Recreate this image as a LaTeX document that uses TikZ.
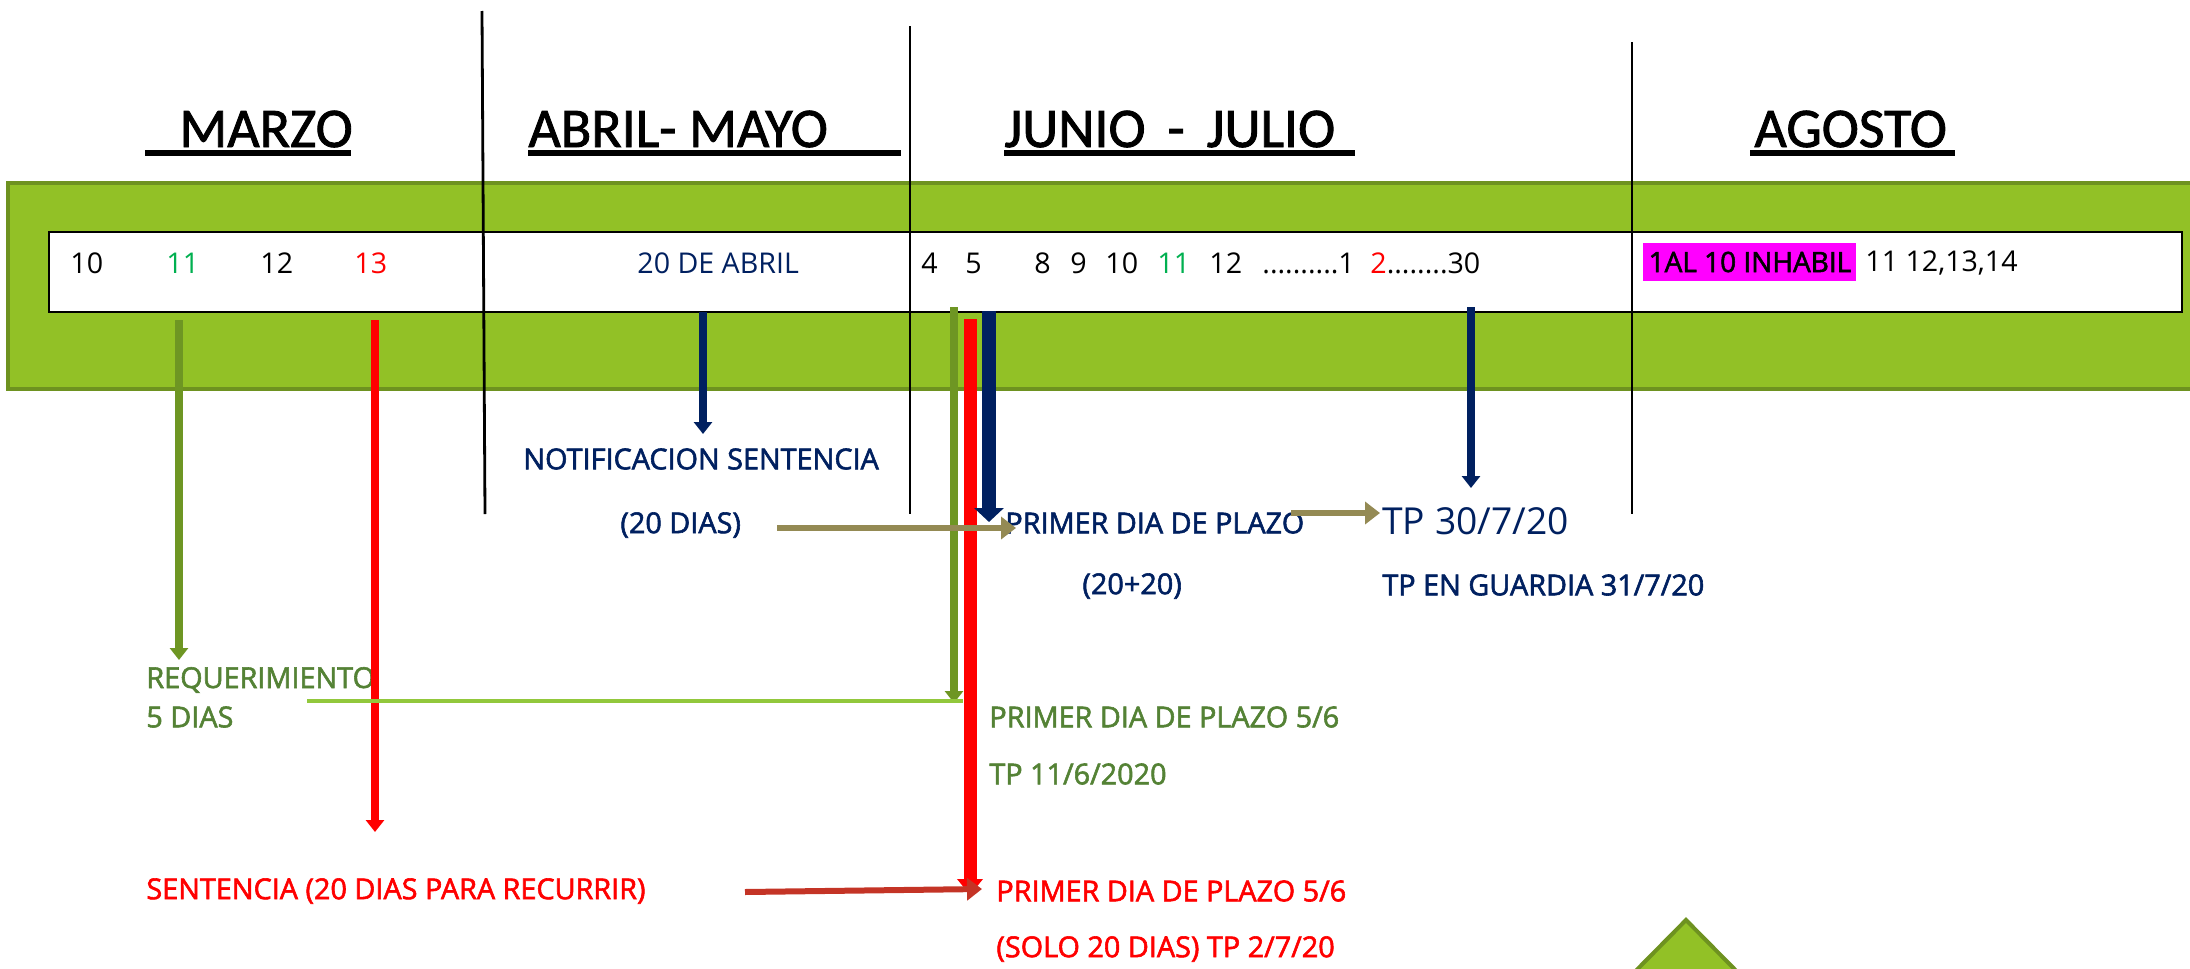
\documentclass[tikz,border=0pt]{standalone}
\usepackage{fontspec}
\setmainfont{Open Sans}
\newfontfamily\semib{Open Sans}[FakeBold=2]
\newfontfamily\titf{Carlito}[FakeBold=1.5]
\usetikzlibrary{arrows.meta}
\definecolor{navy}{RGB}{0,32,96}
\definecolor{txtgreen}{RGB}{84,130,53}
\definecolor{daygreen}{RGB}{0,176,80}
\definecolor{olivearr}{RGB}{110,150,35}
\definecolor{bandfill}{RGB}{146,193,38}
\definecolor{bandline}{RGB}{110,146,32}
\definecolor{lgreen}{RGB}{146,200,60}
\definecolor{khaki}{RGB}{148,138,84}
\definecolor{darkred}{RGB}{196,52,38}
\definecolor{magentabg}{RGB}{255,0,255}
\begin{document}
\begin{tikzpicture}[x=0.5pt,y=-0.5pt,
  day/.style={anchor=west, inner sep=0pt, font=\fontsize{14.3}{16}\selectfont},
  ann/.style={anchor=west, inner sep=0pt, font=\semib\fontsize{14.4}{16}\selectfont},
  ttl/.style={anchor=base west, inner sep=0pt, font=\titf\fontsize{28}{32}\selectfont},
  sepline/.style={line width=1.4pt, black},
  thinarrow/.style={line width=4pt, -{Triangle[width=9pt,length=6pt]}},
  harrow/.style={line width=3pt, khaki, -{Triangle[width=11pt,length=7.5pt]}},
  uline/.style={line width=3pt, black}
]
\useasboundingbox (0,0) rectangle (2190,969);

% band and day strip
\draw[fill=bandfill, draw=bandline, line width=2pt] (8,183) rectangle (2220,389);
\draw[fill=white, draw=black, line width=1.2pt] (49,232) rectangle (2182,312);

% separators
\draw[sepline] (482,11) -- (485,514);
\draw[sepline] (910,26) -- (910,514);
\draw[sepline] (1632,42) -- (1632,514);

% titles
\node[ttl] (tmar) at (179,147) {MARZO};
\node[ttl] (tabr) at (528,147) {ABRIL- MAYO};
\node[ttl] (tjun) at (1004,147) {JUNIO \,-\, JULIO};
\node[ttl] (tago) at (1754,147) {AGOSTO};
\draw[uline] (145,153) -- (351,153);
\draw[uline] (528,153) -- (901,153);
\draw[uline] (1004,153) -- (1355,153);
\draw[uline] (1750,153) -- (1955,153);

% days
\node[day] (d10) at (70,263) {10};
\node[day, text=daygreen] (d11) at (166,263) {11};
\node[day] (d12) at (260,263) {12};
\node[day, text=red] (d13) at (354,263) {13};
\node[day, text=navy] (dabr) at (637,263) {20 DE ABRIL};
\node[day] (j4) at (921,263) {4};
\node[day] (j5) at (965,263) {5};
\node[day] (j8) at (1034,263) {8};
\node[day] (j9) at (1070,263) {9};
\node[day] (j10) at (1105,263) {10};
\node[day, text=daygreen] (j11) at (1157,263) {11};
\node[day] (j12) at (1209,263) {12};
\node[day] (jdots) at (1262,263) {..........1};
\node[day] (j30) at (1370,263) {\textcolor{red}{2}........30};
\node[anchor=west, inner sep=0pt, fill=magentabg, minimum width=106.5pt, minimum height=19pt, font=\semib\fontsize{14}{16}\selectfont] (inh) at (1643,262) {1AL 10 INHABIL};
\node[day] (ago) at (1865,263) {11 12,13,14};

% annotations
\node[ann, text=navy] (notif) at (523,459) {NOTIFICACION SENTENCIA};
\node[ann, text=navy] (d20) at (620,525) {(20 DIAS)};
\node[ann, text=navy] (primn) at (1005,523) {PRIMER DIA DE PLAZO};
\node[ann, text=navy] (p2020) at (1082,586) {(20+20)};
\node[anchor=west, inner sep=0pt, text=navy, font=\fontsize{18.6}{20}\selectfont] (tp30) at (1382,521) {TP 30/7/20};
\node[ann, text=navy] (tpg) at (1382,585) {TP EN GUARDIA 31/7/20};
\node[ann, text=txtgreen] (req) at (146,680) {REQUERIMIENTO};
\node[ann, text=txtgreen] (req5) at (146,717) {5 DIAS};
\node[ann, text=txtgreen] (primg) at (989,717) {PRIMER DIA DE PLAZO 5/6};
\node[ann, text=txtgreen] (tp11) at (989,774) {TP 11/6/2020};
\node[ann, text=red] (sent) at (146,891) {SENTENCIA (20 DIAS PARA RECURRIR)};
\node[ann, text=red] (primr) at (996,891) {PRIMER DIA DE PLAZO 5/6};
\node[ann, text=red] (solo) at (996,949) {(SOLO 20 DIAS) TP 2/7/20};

% arrow coordinates
\coordinate (s11) at (179,320);   \coordinate (e11) at (179,660);
\coordinate (s13) at (375,320);   \coordinate (e13) at (375,832);
\coordinate (sabr) at (703,312);  \coordinate (eabr) at (703,434);
\coordinate (sg5) at (954,307);   \coordinate (eg5) at (954,703);
\coordinate (sr5) at (970,319);   \coordinate (er5) at (970,895);
\coordinate (sn5) at (989,311);   \coordinate (en5) at (989,522);
\coordinate (s30) at (1471,307);  \coordinate (e30) at (1471,488);
\coordinate (sk1) at (777,528);   \coordinate (ek1) at (1016,528);
\coordinate (sk2) at (1291,513);  \coordinate (ek2) at (1380,513);
\coordinate (slg) at (307,701);   \coordinate (elg) at (963,701);
\coordinate (sdr) at (745,892);   \coordinate (edr) at (982,889);

% vertical arrows
\draw[thinarrow, olivearr] (s11) -- (e11);
\draw[thinarrow, red] (s13) -- (e13);
\draw[thinarrow, navy] (sabr) -- (eabr);
\draw[thinarrow, olivearr] (sg5) -- (eg5);
\draw[red, line width=6.5pt, -{Triangle[width=12.5pt,length=8pt]}] (sr5) -- (er5);
\draw[navy, line width=7pt, -{Triangle[width=14.5pt,length=7pt]}] (sn5) -- (en5);
\draw[thinarrow, navy] (s30) -- (e30);

% horizontal arrows
\draw[harrow] (sk1) -- (ek1);
\draw[harrow] (sk2) -- (ek2);
\draw[lgreen, line width=2pt] (slg) -- (elg);
\draw[harrow, darkred] (sdr) -- (edr);

% triangle
\draw[fill=bandfill, draw=bandline, line width=2pt] (1686,920) -- (1768,1003) -- (1604,1003) -- cycle;
\end{tikzpicture}
\end{document}
